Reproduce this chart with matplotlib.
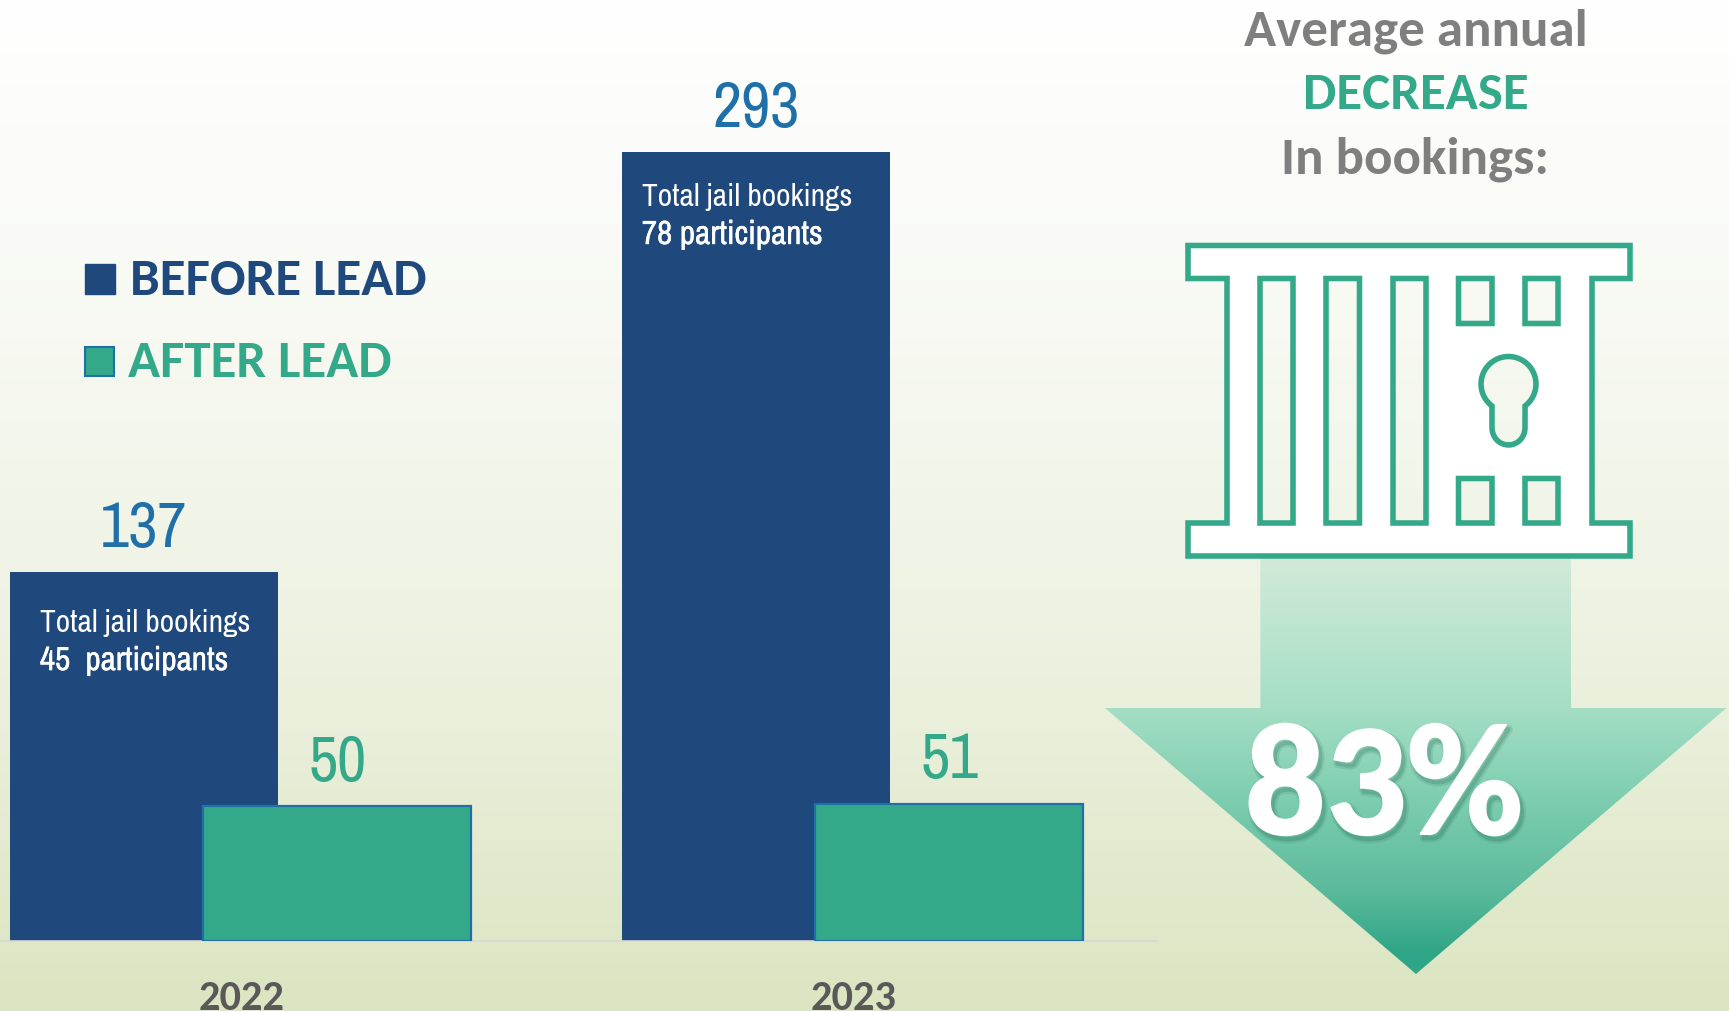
import numpy as np
import matplotlib
matplotlib.use('Agg')
import matplotlib.pyplot as plt
import matplotlib.patheffects as pe
from matplotlib.colors import LinearSegmentedColormap
from matplotlib.patches import PathPatch, Polygon, Rectangle
from matplotlib.path import Path

years = ['2022', '2023']
before_lead = [137, 293]
after_lead = [50, 51]
bar_notes = ['Total jail bookings', 'Total jail bookings']
participant_notes = ['45  participants', '78 participants']
legend_labels = ['BEFORE LEAD', 'AFTER LEAD']
headline = ['Average annual', 'DECREASE', 'In bookings:']
decrease_pct = '83%'

NAVY = '#1f487c'
GREEN = '#33a98a'
BLUE = '#1f6fa8'
GREY = '#7f7f7f'
BOLD = ['Carlito', 'Lato', 'DejaVu Sans']
NARROW = ['Archivo Narrow', 'Roboto Condensed', 'Lato', 'DejaVu Sans']

W, H = 1729, 1012
fig = plt.figure(figsize=(W / 100, H / 100), dpi=100)

# pixel axes for the background and the drawn icon
bg = fig.add_axes([0, 0, 1, 1])
bg.set_xlim(0, W)
bg.set_ylim(H, 0)
bg.axis('off')
bg_cmap = LinearSegmentedColormap.from_list('bg', ['#ffffff', '#f7f9f2', '#ecf1df', '#dbe5c1'])
bg.imshow(np.linspace(0, 1, 256).reshape(-1, 1), cmap=bg_cmap, extent=[0, W, H, 0], aspect='auto', zorder=0)

# bars, baseline at y=942px, 2.693px per booking
ax = fig.add_axes([0, (H - 942) / H, 1158 / W, 942 / H])
ax.patch.set_alpha(0)
ax.set_xlim(-0.394, 1.498)
ax.set_ylim(0, 349.8)
x = np.arange(len(years))
bars1 = ax.bar(x - 0.159, before_lead, 0.438, color=NAVY, zorder=2)
bars2 = ax.bar(x + 0.157, after_lead, 0.438, color=GREEN, edgecolor=BLUE, linewidth=1.6, zorder=3)

ax.bar_label(bars1, padding=11, color=BLUE, fontsize=46, family=NARROW)
ax.bar_label(bars2, padding=11, color=GREEN, fontsize=46, family=NARROW)

left_off = [30, 20]
top_off = [59, 53]
for i, b in enumerate(bars1):
    xy = (b.get_x(), b.get_height())
    ax.annotate(bar_notes[i], xy, xytext=(left_off[i] * 0.72, -top_off[i] * 0.72), textcoords='offset points',
                color='white', fontsize=22.7, family=NARROW, zorder=4)
    t = ax.annotate(participant_notes[i], xy, xytext=(left_off[i] * 0.72, -(top_off[i] + 39) * 0.72),
                    textcoords='offset points', color='white', fontsize=24, family=NARROW, zorder=4)
    t.set_path_effects([pe.withStroke(linewidth=0.3, foreground='white')])

ax.set_xticks(x, years)
ax.tick_params(axis='x', length=0, pad=27.5, labelsize=30.5, labelcolor='#595959')
for lab in ax.get_xticklabels():
    lab.set_family(BOLD)
    lab.set_fontweight('bold')
ax.set_yticks([])
for s in ['top', 'left', 'right']:
    ax.spines[s].set_visible(False)
ax.spines['bottom'].set_color('#d9d9d9')
ax.spines['bottom'].set_linewidth(1.2)

# overlay for legend, arrow, gate
ov = fig.add_axes([0, 0, 1, 1])
ov.set_xlim(0, W)
ov.set_ylim(H, 0)
ov.axis('off')
ov.patch.set_alpha(0)

ov.add_patch(Rectangle((85, 265), 30, 30, color=NAVY))
ov.add_patch(Rectangle((85.5, 347.5), 29, 29, facecolor=GREEN, edgecolor=BLUE, linewidth=1.5))
ov.text(130, 295, legend_labels[0], color=NAVY, fontsize=38.1, family=BOLD, fontweight='bold')
ov.text(128, 377, legend_labels[1], color=GREEN, fontsize=38.1, family=BOLD, fontweight='bold')

head_cols = [GREY, GREEN, GREY]
head_y = [45, 109, 173]
for s, c, yy in zip(headline, head_cols, head_y):
    ov.text(1415.5, yy, s, color=c, fontsize=38.2, family=BOLD, fontweight='bold', ha='center')

# arrow with vertical gradient
arrow_cmap = LinearSegmentedColormap.from_list(
    'arrow', [(0, '#d2ead8'), (0.35, '#a6dfc6'), (0.6, '#7accae'), (0.8, '#5cba9c'), (0.95, '#2fa687'), (1, '#2fa687')])
arrow = Polygon([(1260.4, 558), (1571, 558), (1571, 709), (1726.5, 709), (1416, 975), (1105, 709), (1260.4, 709)],
                closed=True, facecolor='none', edgecolor='none', transform=ov.transData)
ov.add_patch(arrow)
grad = ov.imshow(np.linspace(0, 1, 256).reshape(-1, 1), cmap=arrow_cmap, extent=[1105, 1727, 975, 558],
                 aspect='auto', zorder=1)
grad.set_clip_path(arrow)
ov.set_xlim(0, W)
ov.set_ylim(H, 0)


def rect_path(x0, y0, x1, y1):
    # wound against the outline so it stays open
    return [(x0, y0), (x0, y1), (x1, y1), (x1, y0), (x0, y0)], [Path.MOVETO, Path.LINETO, Path.LINETO, Path.LINETO, Path.CLOSEPOLY]


# gate outline with holes
verts = [(1188, 245.5), (1630, 245.5), (1630, 278.5), (1592, 278.5), (1592, 523), (1630, 523), (1630, 556),
         (1188, 556), (1188, 523), (1227, 523), (1227, 278.5), (1188, 278.5), (1188, 245.5)]
codes = [Path.MOVETO] + [Path.LINETO] * 11 + [Path.CLOSEPOLY]
holes = [(1260, 278.5, 1293, 523), (1326, 278.5, 1359.5, 523), (1393, 278.5, 1426, 523),
         (1458.5, 278.5, 1492, 323.5), (1525, 278.5, 1558, 323.5),
         (1458.5, 478.5, 1492, 523), (1525, 478.5, 1558, 523)]
for h in holes:
    v, c = rect_path(*h)
    verts += v
    codes += c
# keyhole
cx, cy, r = 1508.5, 384, 27.5
ang = np.radians(np.linspace(-53, 233, 40))
key = [(cx + r * np.cos(a), cy - r * np.sin(a)) for a in ang]
key += [(1492, 428)]
key += [(1508.5 - 16.5 * np.cos(a), 428 + 17 * np.sin(a)) for a in np.radians(np.linspace(0, 180, 16))]
key += [key[0]]
verts += key
codes += [Path.MOVETO] + [Path.LINETO] * (len(key) - 2) + [Path.CLOSEPOLY]
verts = [(vx, vy + 1) for vx, vy in verts]
ov.add_patch(PathPatch(Path(verts, codes), facecolor='white', edgecolor=GREEN, linewidth=4, joinstyle='miter', zorder=2))

t = ov.text(1384, 835, decrease_pct, color='white', fontsize=115, family=BOLD, fontweight='bold', ha='center', zorder=5)
t.set_path_effects([pe.SimpleLineShadow(offset=(2, -3), shadow_color='#1d5d4c', alpha=0.12, linewidth=6),
                    pe.SimpleLineShadow(offset=(2, -3), shadow_color='#1d5d4c', alpha=0.2, linewidth=3),
                    pe.withStroke(linewidth=1.5, foreground='white')])

fig.savefig('out.png', dpi=100)
